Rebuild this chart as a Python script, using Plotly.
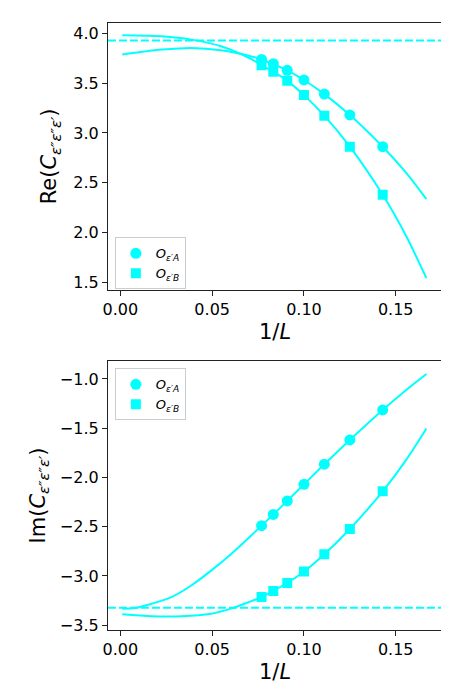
import plotly.graph_objects as go

# ---- data ----
inv_L = [0.0769, 0.0833, 0.0909, 0.1000, 0.1111, 0.1250, 0.1429]

re_A = [3.738, 3.695, 3.629, 3.532, 3.390, 3.181, 2.862]
re_B = [3.680, 3.615, 3.523, 3.380, 3.174, 2.862, 2.379]
im_A = [-2.490, -2.376, -2.238, -2.070, -1.866, -1.619, -1.315]
im_B = [-3.215, -3.152, -3.072, -2.955, -2.779, -2.523, -2.141]

# fitted curves
re_fitA_x = [0.001, 0.012, 0.0226, 0.0387, 0.0548, 0.071, 0.0769, 0.0909, 0.100, 0.1111, 0.125, 0.1429, 0.1554, 0.1667]
re_fitA_y = [3.788, 3.815, 3.837, 3.854, 3.831, 3.771, 3.738, 3.629, 3.532, 3.390, 3.181, 2.862, 2.606, 2.335]
re_fitB_x = [0.001, 0.0226, 0.0387, 0.0548, 0.071, 0.0769, 0.0833, 0.0909, 0.100, 0.1111, 0.125, 0.1429, 0.1554, 0.1667]
re_fitB_y = [3.980, 3.970, 3.937, 3.871, 3.745, 3.680, 3.615, 3.523, 3.380, 3.174, 2.862, 2.379, 1.975, 1.543]

im_fitA_x = [0.001, 0.008, 0.0171, 0.0278, 0.0386, 0.0494, 0.0602, 0.071, 0.0769, 0.0833, 0.0909, 0.100, 0.1111, 0.125, 0.1429, 0.1554, 0.1667]
im_fitA_y = [-3.332, -3.325, -3.282, -3.215, -3.097, -2.946, -2.779, -2.594, -2.490, -2.376, -2.238, -2.070, -1.866, -1.619, -1.315, -1.117, -0.950]
im_fitB_x = [0.001, 0.017, 0.0332, 0.0494, 0.0602, 0.071, 0.0769, 0.0833, 0.0909, 0.100, 0.1111, 0.125, 0.1429, 0.1554, 0.1667]
im_fitB_y = [-3.390, -3.409, -3.409, -3.383, -3.332, -3.258, -3.215, -3.152, -3.072, -2.955, -2.779, -2.523, -2.141, -1.830, -1.503]

re_limit = 3.928
im_limit = -3.322

x_ticks = [0.00, 0.05, 0.10, 0.15]
re_ticks = [1.5, 2.0, 2.5, 3.0, 3.5, 4.0]
im_ticks = [-3.5, -3.0, -2.5, -2.0, -1.5, -1.0]

label_A = "<i>O</i><sub><i>ε′A</i></sub>"
label_B = "<i>O</i><sub><i>ε′B</i></sub>"

CYAN = "#00ffff"
FONT = "DejaVu Sans"
W, H = 449, 698

fig = go.Figure()

def add_panel(xa, ya, legend, fitA_x, fitA_y, fitB_x, fitB_y, ptsA, ptsB):
    for fx, fy in ((fitA_x, fitA_y), (fitB_x, fitB_y)):
        fig.add_trace(go.Scatter(x=fx, y=fy, mode="lines", xaxis=xa, yaxis=ya,
                                 line=dict(color=CYAN, width=2, shape="spline", smoothing=0.8),
                                 showlegend=False, hoverinfo="skip"))
    fig.add_trace(go.Scatter(x=inv_L, y=ptsA, mode="markers", xaxis=xa, yaxis=ya,
                             marker=dict(symbol="circle", size=11, color=CYAN),
                             name=label_A, legend=legend))
    fig.add_trace(go.Scatter(x=inv_L, y=ptsB, mode="markers", xaxis=xa, yaxis=ya,
                             marker=dict(symbol="square", size=10, color=CYAN),
                             name=label_B, legend=legend))

add_panel("x", "y", "legend", re_fitA_x, re_fitA_y, re_fitB_x, re_fitB_y, re_A, re_B)
add_panel("x2", "y2", "legend2", im_fitA_x, im_fitA_y, im_fitB_x, im_fitB_y, im_A, im_B)

for yref, val in (("y", re_limit), ("y2", im_limit)):
    xref = "x" if yref == "y" else "x2"
    fig.add_shape(type="line", xref=f"{xref} domain", yref=yref, x0=0, x1=1, y0=val, y1=val,
                  line=dict(color=CYAN, width=2, dash="8px,3px"))

xdom = [96 / W, 434 / W]
axis_common = dict(showline=True, linecolor="#222222", linewidth=1, mirror=True,
                   ticks="outside", ticklen=5, tickwidth=1, tickcolor="#222222",
                   showgrid=False, zeroline=False,
                   tickfont=dict(family=FONT, size=16, color="black"))

xcommon = dict(axis_common, range=[-0.0068, 0.1753], tickvals=x_ticks, tickformat=".2f",
               domain=xdom,
               title=dict(text="1/<i>L</i>", font=dict(family=FONT, size=21, color="black"), standoff=6))

legend_common = dict(xanchor="left", yanchor="top", bgcolor="white",
                     bordercolor="#cccccc", borderwidth=1,
                     font=dict(family=FONT, size=13, color="black"))

fig.update_layout(
    width=W, height=H,
    margin=dict(l=0, r=0, t=0, b=0),
    paper_bgcolor="white", plot_bgcolor="white",
    font=dict(family=FONT, color="black"),
    xaxis=dict(xcommon, anchor="y"),
    yaxis=dict(axis_common, range=[1.424, 4.105], tickvals=re_ticks, tickformat=".1f",
               domain=[(H - 284) / H, (H - 15) / H], anchor="x",
               title=dict(text="Re(<i>C</i><sub><i>ε″ε″ε′</i></sub>)",
                          font=dict(family=FONT, size=21, color="black"), standoff=10)),
    xaxis2=dict(xcommon, anchor="y2"),
    yaxis2=dict(axis_common, range=[-3.544, -0.8225], tickvals=im_ticks, tickformat=".1f",
                domain=[(H - 626) / H, (H - 356) / H], anchor="x2",
                title=dict(text="Im(<i>C</i><sub><i>ε″ε″ε′</i></sub>)",
                           font=dict(family=FONT, size=21, color="black"), standoff=8)),
    legend=dict(legend_common, x=103 / W, y=(H - 231) / H),
    legend2=dict(legend_common, x=103 / W, y=(H - 363) / H),
)

fig.write_html("out.html")
